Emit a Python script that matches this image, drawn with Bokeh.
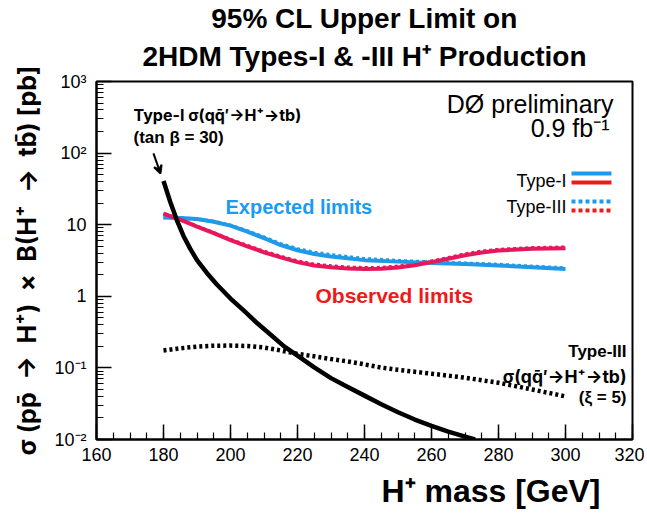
from bokeh.plotting import figure
from bokeh.models import FixedTicker, Label, Arrow, VeeHead, CustomJSTickFormatter, Title
from bokeh.embed import file_html
from bokeh.resources import INLINE

FONT = "Liberation Sans"
AFONT = "Inter"   # font with full-size arrows, for texts that contain them

# ---------------- data ----------------
x_ticks = [160, 180, 200, 220, 240, 260, 280, 300, 320]
x_minor = list(range(160, 321, 5))
y_ticks = [0.01, 0.1, 1, 10, 100, 1000]
y_tick_labels = ["10\u207b\u00b2", "10\u207b\u00b9", "1", "10", "10\u00b2", "10\u00b3"]

# Type-I theory cross section (tan beta = 30)
mass_th1 = [180, 182, 184, 186, 188, 190, 193, 196, 200, 204, 208, 212, 216, 220,
            225, 230, 235, 240, 245, 250, 255, 260, 265, 270, 273]
xsec_th1 = [40.7, 20.9, 11.5, 6.9, 4.6, 3.2, 2.1, 1.45, 0.93, 0.63, 0.42, 0.29, 0.20, 0.148,
            0.102, 0.072, 0.054, 0.041, 0.031, 0.024, 0.019, 0.0155, 0.0129, 0.011, 0.0100]

# Type-III theory cross section (xi = 5)
mass_th3 = [180, 185, 190, 195, 200, 205, 210, 215, 220, 225, 230, 235, 240, 245,
            250, 260, 270, 280, 290, 300]
xsec_th3 = [0.175, 0.188, 0.198, 0.204, 0.205, 0.202, 0.193, 0.175, 0.157, 0.145,
            0.133, 0.123, 0.112, 0.101, 0.094, 0.083, 0.073, 0.062, 0.050, 0.040]

mass_exp = [180, 185, 190, 195, 200, 205, 210, 215, 220, 225, 230, 240, 250, 260,
            270, 280, 290, 300]
exp_type1 = [12.6, 12.4, 12.0, 11.0, 9.7, 8.0, 6.5, 5.2, 4.4, 3.9, 3.6, 3.2, 3.05, 2.92,
             2.82, 2.70, 2.55, 2.40]
exp_type3 = [12.6, 12.4, 12.0, 11.1, 9.8, 8.2, 6.7, 5.4, 4.6, 4.1, 3.8, 3.35, 3.15, 3.0,
             2.9, 2.78, 2.62, 2.48]

mass_obs = [180, 185, 190, 195, 200, 205, 210, 215, 220, 225, 230, 235, 240, 245, 250,
            255, 260, 265, 270, 275, 280, 290, 300]
obs_type1 = [14.3, 11.8, 9.4, 7.6, 6.1, 5.0, 4.1, 3.5, 3.0, 2.7, 2.55, 2.45, 2.4, 2.42,
             2.52, 2.72, 3.0, 3.35, 3.75, 4.1, 4.35, 4.6, 4.7]
obs_type3 = [14.3, 11.8, 9.5, 7.7, 6.2, 5.1, 4.25, 3.6, 3.1, 2.8, 2.65, 2.55, 2.5, 2.52,
             2.62, 2.82, 3.1, 3.45, 3.9, 4.25, 4.5, 4.75, 4.85]

BLUE = "#1f9ae8"
RED = "#e6175a"
BLUE_L = "#1a9bf0"
RED_L = "#ee1a1a"

# ---------------- figure ----------------
p = figure(width=644, height=516, x_range=(160, 320), y_range=(0.01, 1000),
           y_axis_type="log", output_backend="svg", toolbar_location=None, title=None,
           min_border_left=96, min_border_right=12, min_border_top=81, min_border_bottom=76)
p.xgrid.visible = False
p.ygrid.visible = False
p.outline_line_color = "black"
p.outline_line_width = 2
p.background_fill_color = "white"
p.border_fill_color = "white"

p.xaxis.ticker = FixedTicker(ticks=x_ticks, minor_ticks=x_minor)
p.yaxis.ticker = FixedTicker(ticks=y_ticks,
                             minor_ticks=[m * t for t in y_ticks[:-1] for m in range(2, 10)])
p.yaxis.formatter = CustomJSTickFormatter(
    args=dict(vals=y_ticks, labs=y_tick_labels),
    code="""
    for (let i = 0; i < vals.length; i++) {
        if (Math.abs(Math.log10(vals[i]) - Math.log10(tick)) < 1e-6) return labs[i];
    }
    return '';
    """)

for ax in (p.xaxis, p.yaxis):
    ax.major_tick_in = 15
    ax.major_tick_out = 0
    ax.minor_tick_in = 7
    ax.minor_tick_out = 0
    ax.axis_line_width = 2
    ax.major_tick_line_width = 1.5
    ax.minor_tick_line_width = 1.2
    ax.major_label_text_font = FONT
    ax.major_label_text_font_size = "18px"
    ax.major_label_text_color = "black"
p.xaxis.major_label_standoff = 8
p.yaxis.major_label_standoff = 10

SP = "\u2002"
p.yaxis.axis_label = ("\u03c3 (pp\u0304" + SP + "\u2192" + SP + "H\u207a)" + SP + "\u00d7" + SP
                      + "B(H\u207a" + SP + "\u2192" + SP + "tb\u0304) [pb]")
p.yaxis.axis_label_text_font = AFONT
p.yaxis.axis_label_text_font_size = "25px"
p.yaxis.axis_label_text_font_style = "bold"
p.yaxis.axis_label_text_color = "black"
p.yaxis.axis_label_standoff = 9

# ---------------- titles ----------------
p.add_layout(Title(text="2HDM Types-I & -III H\u207a Production", align="center",
                   text_font=FONT, text_font_size="28px", text_font_style="bold",
                   text_color="black", standoff=20), "above")
p.add_layout(Title(text="95% CL Upper Limit on", align="center",
                   text_font=FONT, text_font_size="28px", text_font_style="bold",
                   text_color="black", standoff=-10), "above")
p.add_layout(Title(text="H\u207a mass [GeV]", align="right", offset=32,
                   text_font=FONT, text_font_size="32px", text_font_style="bold",
                   text_color="black", standoff=15), "below")

# ---------------- curves ----------------
p.line(mass_exp, exp_type3, line_color=BLUE, line_width=3.5, line_dash="3 3")
p.line(mass_obs, obs_type3, line_color=RED, line_width=3.5, line_dash="3 3")
p.line(mass_exp, exp_type1, line_color=BLUE, line_width=4, line_join="round")
p.line(mass_obs, obs_type1, line_color=RED, line_width=4, line_join="round")
p.line(mass_th3, xsec_th3, line_color="black", line_width=4.5, line_dash="3 3")
p.line(mass_th1, xsec_th1, line_color="black", line_width=4.5, line_join="round")

p.add_layout(Arrow(end=VeeHead(size=8, line_width=2, line_color="black"),
                   x_start=177.0, y_start=99, x_end=179.1, y_end=52,
                   line_width=2, line_color="black"))

# ---------------- legend (drawn by hand) ----------------
def seg(x0, x1, y, color, dash="solid"):
    p.add_layout(Arrow(end=None, start=None, x_start=x0, y_start=y, x_end=x1, y_end=y,
                       start_units="screen", end_units="screen",
                       line_color=color, line_width=4, line_dash=dash))

seg(475, 515, 266, BLUE_L)
seg(475, 515, 257, RED_L)
seg(475, 515, 238, BLUE_L, "4 3")
seg(475, 515, 229, RED_L, "4 3")

def lab(text, x, y, size, align="left", bold=False, color="black", font=FONT):
    p.add_layout(Label(x=x, y=y, x_units="screen", y_units="screen", text=text,
                       text_font=font, text_font_size=size, text_align=align,
                       text_baseline="middle", text_color=color,
                       text_font_style="bold" if bold else "normal"))

lab("Type-I", 470, 259, "18px", "right")
lab("Type-III", 470, 233, "18px", "right")
lab("D\u00d8 preliminary", 517, 336, "25px", "right")
lab("0.9 fb\u207b\u00b9", 513, 312, "25px", "right")

lab("Type-I \u03c3(qq\u0304\u2032\u2192H\u207a\u2192tb)", 37, 325, "16px", "left", True, font=AFONT)
lab("(tan \u03b2 = 30)", 37, 302, "17px", "left", True)

lab("Expected limits", 129, 233, "20px", "left", True, BLUE_L)
lab("Observed limits", 219, 144, "21px", "left", True, RED_L)

lab("Type-III", 530, 88, "17px", "right", True)
lab("\u03c3(qq\u0304\u2032\u2192H\u207a\u2192tb)", 530, 63, "17.5px", "right", True, font=AFONT)
lab("(\u03be = 5)", 530, 42, "17px", "right", True)

open("out.html", "w").write(file_html(p, INLINE))
